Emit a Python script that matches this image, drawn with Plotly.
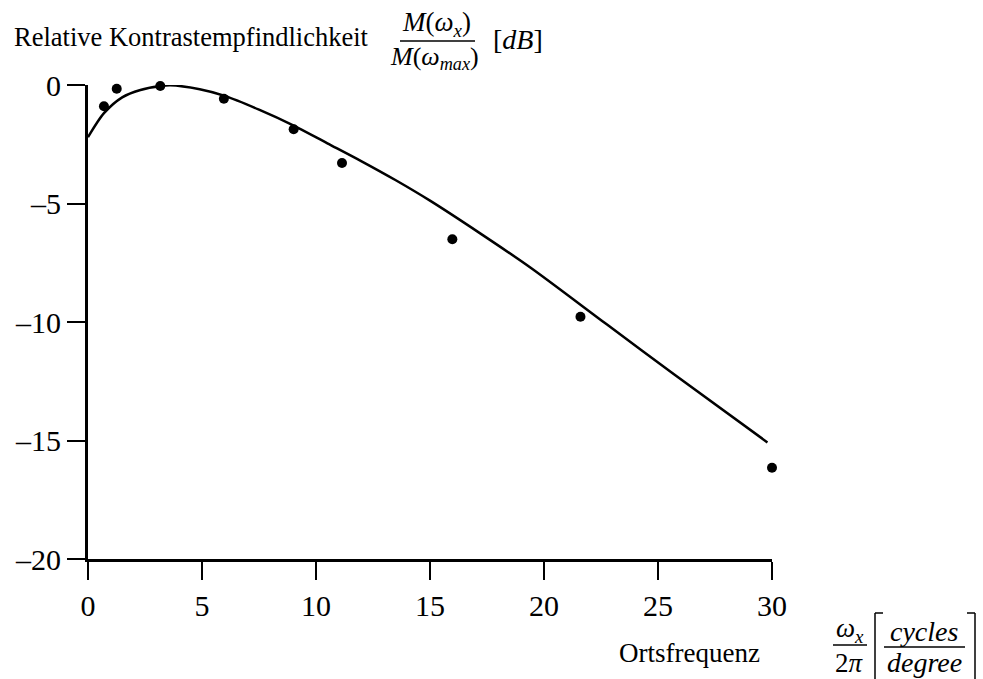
import plotly.graph_objects as go

# Measured data points (spatial frequency in cycles/degree, relative sensitivity in dB)
meas_x = [0.7, 1.26, 3.17, 5.96, 9.02, 11.14, 15.98, 21.6, 30.0]
meas_y = [-0.9, -0.16, -0.04, -0.58, -1.87, -3.29, -6.51, -9.78, -16.15]

# Fitted model curve
curve_x = [0, 0.7, 1.5, 2.3, 3.2, 3.6, 4.9, 6.0, 7.5, 9.0, 10.5, 12.0, 13.5,
           15.0, 17.2, 19.4, 22.75, 25.7, 29.8]
curve_y = [-2.2, -1.19, -0.52, -0.21, -0.04, -0.01, -0.18, -0.46, -1.04, -1.70,
           -2.46, -3.22, -4.02, -4.88, -6.26, -7.7, -10.1, -12.2, -15.08]

x_ticks = [0, 5, 10, 15, 20, 25, 30]
y_ticks = [0, -5, -10, -15, -20]
y_ticktext = ["0", "–5", "–10", "–15", "–20"]

FONT = "Liberation Serif, Times New Roman, serif"
W, H = 983, 679
L, R, T, B = 88, 211, 85, 120
PW, PH = W - L - R, H - T - B


def px(x):
    return (x - L) / PW


def py(y):
    return (H - B - y) / PH


fig = go.Figure()
fig.add_trace(go.Scatter(x=curve_x, y=curve_y, mode="lines",
                         line=dict(color="black", width=2.5, shape="spline", smoothing=0.8),
                         cliponaxis=False, hoverinfo="skip"))
fig.add_trace(go.Scatter(x=meas_x, y=meas_y, mode="markers",
                         marker=dict(color="black", size=10),
                         cliponaxis=False))

annots = []
shapes = []


def text(s, x, y, size=27, xanchor="center"):
    annots.append(dict(text=s, x=px(x), y=py(y), xref="paper", yref="paper",
                       xanchor=xanchor, yanchor="middle", showarrow=False,
                       font=dict(family=FONT, size=size, color="black")))


def hline(x0, x1, y, w=1.5):
    shapes.append(dict(type="line", xref="paper", yref="paper",
                       x0=px(x0), x1=px(x1), y0=py(y), y1=py(y),
                       line=dict(color="black", width=w)))


def vline(x, y0, y1, w=1.5):
    shapes.append(dict(type="line", xref="paper", yref="paper",
                       x0=px(x), x1=px(x), y0=py(y0), y1=py(y1),
                       line=dict(color="black", width=w)))


# Y title
text("Relative Kontrastempfindlichkeit", 12, 37, size=26.5, xanchor="left")
text("<i>M</i>(<i>ω</i><sub><i>x</i></sub>)", 437, 24, size=27)
hline(400, 475, 41)
text("<i>M</i>(<i>ω</i><sub><i>max</i></sub>)", 434, 58, size=26)
text("[<i>dB</i>]", 518, 40, size=28)

# X title
text("Ortsfrequenz", 689, 653, size=27)
text("<i>ω</i><sub><i>x</i></sub>", 850, 630, size=27)
hline(833, 867, 645)
text("2<i>π</i>", 850, 663, size=27)
vline(875, 613, 690)
hline(875, 883, 613)
text("<i>cycles</i>", 924, 631, size=28)
hline(884, 965, 647)
text("<i>degree</i>", 924, 662, size=28)
vline(975, 613, 690)
hline(967, 975, 613)

fig.update_layout(
    width=W, height=H,
    margin=dict(l=L, r=R, t=T, b=B),
    plot_bgcolor="white", paper_bgcolor="white",
    showlegend=False,
    annotations=annots, shapes=shapes,
    font=dict(family=FONT, color="black"),
)
fig.update_xaxes(range=[0, 30], tickvals=x_ticks, ticks="outside", ticklen=18,
                 tickwidth=1.5, tickcolor="black", showline=True, linecolor="black",
                 linewidth=3, showgrid=False, zeroline=False,
                 tickfont=dict(family=FONT, size=30, color="black"))
fig.update_yaxes(range=[-20, 0], tickvals=y_ticks, ticktext=y_ticktext,
                 ticks="outside", ticklen=18, tickwidth=1.5, tickcolor="black",
                 showline=True, linecolor="black", linewidth=3, showgrid=False,
                 zeroline=False, tickfont=dict(family=FONT, size=30, color="black"))

fig.write_html("out.html")
